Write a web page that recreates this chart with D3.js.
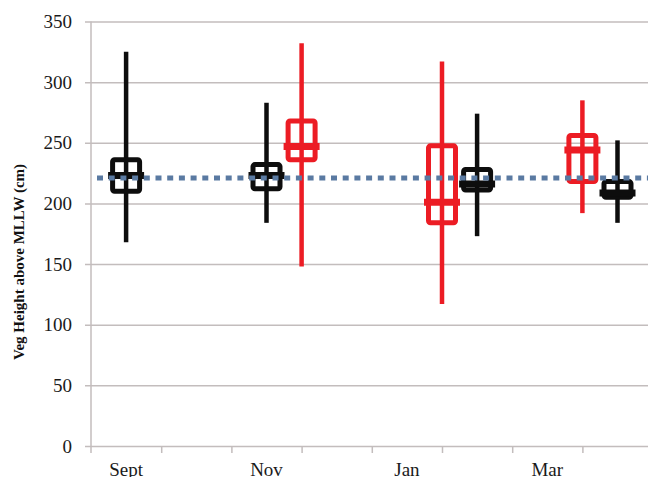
<!DOCTYPE html>
<html>
<head>
<meta charset="utf-8">
<script src="https://cdn.jsdelivr.net/npm/d3@7"></script>
<style>
  html, body { margin: 0; padding: 0; background: #fff; }
  svg { display: block; }
</style>
</head>
<body>
<svg id="chart" width="648" height="477"></svg>
<script>
// Category axis: eight slots, labelled every other one
const tickLabels = ["Sept", "", "Nov", "", "Jan", "", "Mar", ""];
const yTicks = [0, 50, 100, 150, 200, 250, 300, 350];

// Black series (slot position along the category axis, then the five summary values)
const blackSlot = [0.5, 2.5, 5.5, 7.5];
const blackLow  = [168, 184, 173, 184];
const blackQ1   = [210, 212, 211, 205];
const blackMed  = [223, 223, 216, 208.5];
const blackQ3   = [236, 232, 228, 218];
const blackHigh = [325, 283, 274, 252];

// Red series
const redSlot = [3, 5, 7];
const redLow  = [148, 117, 192];
const redQ1   = [236, 184, 218];
const redMed  = [247, 201, 244];
const redQ3   = [268, 247.5, 256];
const redHigh = [332, 317, 285];

// Reference level drawn as a dotted line
const referenceLevel = 221;

const svg = d3.select("#chart");
const plotLeft = 91, plotTop = 21.5, plotBottom = 446, slotW = 70.2;

const x = d3.scaleLinear().domain([0, 8]).range([plotLeft, plotLeft + 8 * slotW]);
const y = d3.scaleLinear().domain([0, 350]).range([plotBottom, plotTop]);

const gridColor = "#c3bdbd";
const serif = "'Liberation Serif', 'Times New Roman', serif";

// Horizontal gridlines + y axis labels
const yAxis = d3.axisLeft(y).tickValues(yTicks).tickSize(6).tickPadding(12);
const gy = svg.append("g").attr("transform", `translate(${plotLeft},0)`).call(yAxis);
gy.select(".domain").remove();
gy.selectAll(".tick line")
  .attr("x1", -6).attr("x2", 648 - plotLeft)
  .attr("stroke", gridColor).attr("stroke-width", 1.5);
gy.selectAll(".tick text")
  .attr("x", -19)
  .attr("font-family", serif)
  .attr("font-size", 19).attr("fill", "#1a1a1a");

// Vertical axis line
svg.append("line")
  .attr("x1", plotLeft).attr("x2", plotLeft)
  .attr("y1", y(350)).attr("y2", plotBottom + 7)
  .attr("stroke", gridColor).attr("stroke-width", 1.5);

// Category axis ticks at slot boundaries
const xAxis = d3.axisBottom(x).tickValues(d3.range(1, 9)).tickSize(7).tickFormat("");
const gx = svg.append("g").attr("transform", `translate(0,${plotBottom})`).call(xAxis);
gx.select(".domain").remove();
gx.selectAll(".tick line").attr("stroke", gridColor).attr("stroke-width", 1.5);

// Category labels at slot centres
svg.append("g").selectAll("text")
  .data(tickLabels)
  .join("text")
  .attr("x", (d, i) => x(i + 0.5))
  .attr("y", 475.5)
  .attr("text-anchor", "middle")
  .attr("font-family", serif)
  .attr("font-size", 19).attr("fill", "#1a1a1a")
  .text(d => d);

// Y axis title
svg.append("text")
  .attr("transform", `translate(24,262) rotate(-90)`)
  .attr("text-anchor", "middle")
  .attr("font-family", serif)
  .attr("font-weight", "bold")
  .attr("font-size", 15).attr("fill", "#111")
  .text("Veg Height above MLLW (cm)");

// Box glyphs
function drawBoxes(slot, low, q1, med, q3, high, color) {
  const g = svg.append("g");
  const boxHalf = 13.5;
  slot.forEach((s, i) => {
    const cx = x(s);
    g.append("line")
      .attr("x1", cx).attr("x2", cx)
      .attr("y1", y(high[i])).attr("y2", y(low[i]))
      .attr("stroke", color).attr("stroke-width", 4.5);
    g.append("rect")
      .attr("x", cx - boxHalf).attr("width", boxHalf * 2)
      .attr("y", y(q3[i])).attr("height", y(q1[i]) - y(q3[i]))
      .attr("fill", "none").attr("stroke", color)
      .attr("stroke-width", 5).attr("rx", 2).attr("stroke-linejoin", "round");
    g.append("line")
      .attr("x1", cx - boxHalf - 4.5).attr("x2", cx + boxHalf + 4.5)
      .attr("y1", y(med[i])).attr("y2", y(med[i]))
      .attr("stroke", color).attr("stroke-width", 7);
  });
}

drawBoxes(blackSlot, blackLow, blackQ1, blackMed, blackQ3, blackHigh, "#0d0d0d");
drawBoxes(redSlot, redLow, redQ1, redMed, redQ3, redHigh, "#ec1c24");

// Dotted reference line
svg.append("line")
  .attr("x1", 97).attr("x2", 648)
  .attr("y1", y(referenceLevel)).attr("y2", y(referenceLevel))
  .attr("stroke", "#5a7aa2").attr("stroke-width", 5)
  .attr("stroke-dasharray", "6 5.7");
</script>
</body>
</html>
